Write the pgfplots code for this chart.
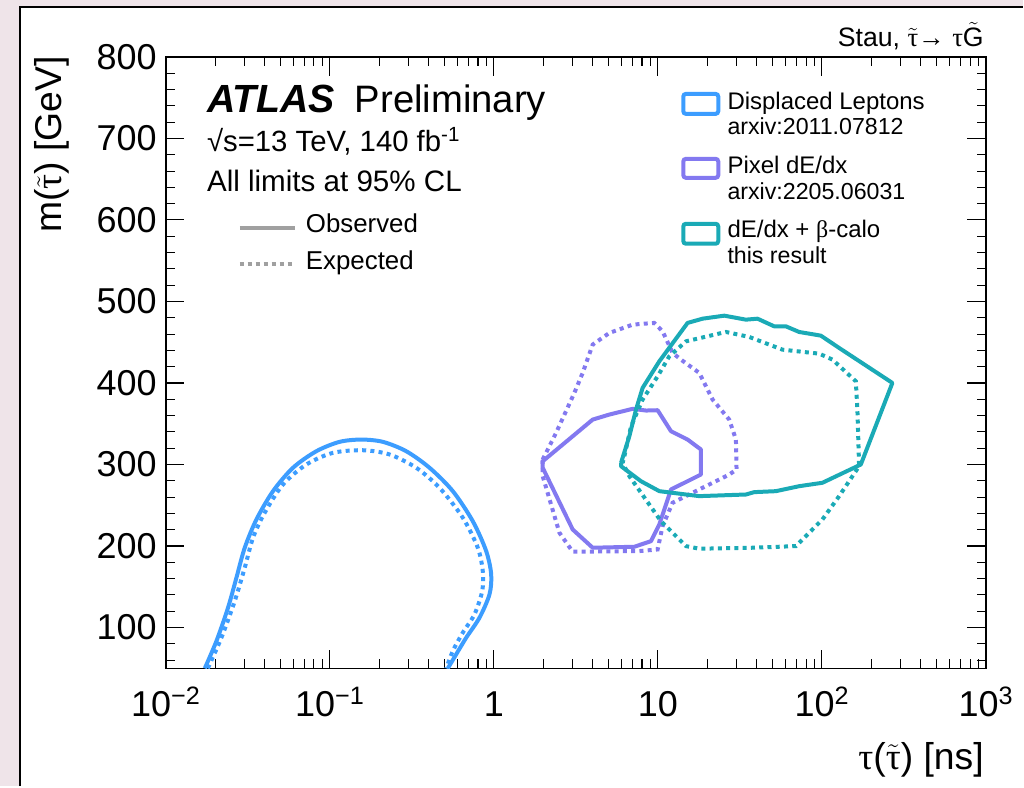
\documentclass[border=0pt]{standalone}
\usepackage{pgfplots}
\pgfplotsset{compat=1.18}
\usepackage{fontspec}
\setmainfont{Liberation Sans}
\newfontfamily\symf{Liberation Serif}
\definecolor{dlblue}{RGB}{60,157,255}
\definecolor{pixpurple}{RGB}{131,121,240}
\definecolor{calteal}{RGB}{26,170,182}
\definecolor{pinkbg}{RGB}{239,228,233}
\definecolor{leggray}{RGB}{160,160,160}
\newcommand{\stau}{$\tilde{\mbox{\symf τ}}$}
\newcommand{\fs}[1]{\fontsize{#1}{#1}\selectfont}
\tikzset{obs/.style={line width=3pt, line join=round}, 
  expd/.style={line width=3pt, dash pattern=on 3pt off 3.2pt}}

\begin{document}
\begin{tikzpicture}
% frame, in pixel coordinates of the reference
\begin{scope}[x=0.75pt,y=-0.75pt,shift={(-166,-669)}]
\fill[pinkbg] (0,0) rectangle (1024,787);
\fill[white] (20,7) rectangle (1024,787);
\draw[black, line width=1.6pt] (20,787) -- (20,7) -- (1024,7);
\end{scope}

\begin{axis}[
  at={(0,0)}, anchor=south west,
  scale only axis, width=615.75pt, height=459pt,
  xmode=log, xmin=0.01, xmax=1000, ymin=50, ymax=800,
  xtick={0.01,0.1,1,10,100,1000},
  xticklabels={10\textsuperscript{−2},10\textsuperscript{−1},1,10,10\textsuperscript{2},10\textsuperscript{3}},
  minor xtick={0.02,0.03,0.04,0.05,0.06,0.07,0.08,0.09,0.2,0.3,0.4,0.5,0.6,0.7,0.8,0.9,2,3,4,5,6,7,8,9,20,30,40,50,60,70,80,90,200,300,400,500,600,700,800,900},
  ytick={100,200,300,400,500,600,700,800},
  minor ytick={60,80,120,140,160,180,220,240,260,280,320,340,360,380,420,440,460,480,520,540,560,580,620,640,660,680,720,740,760,780},
  tick align=inside,
  major tick length=14pt, minor tick length=7pt,
  axis line style={line width=1.1pt},
  every tick/.style={black, line width=0.8pt},
  /pgf/number format/assume math mode=true,
  tick label style={font=\fs{27}, inner sep=0pt},
  xticklabel style={anchor=base, yshift=-36pt},
  yticklabel style={anchor=east, xshift=-6.75pt},
]
% Displaced leptons
\addplot[dlblue, obs, smooth] coordinates {
(0.01728,50) (0.02036,83.5) (0.02395,124.4) (0.02695,161.2) (0.03028,197.9) (0.03568,232.6)
(0.04503,267.3) (0.05961,296) (0.08275,316.3) (0.1147,327.8) (0.1555,330.6) (0.2106,327.8)
(0.2922,316.3) (0.4053,296) (0.5620,267.3) (0.7436,230.5) (0.8976,193.8) (0.9629,165.2)
(0.9401,140.7) (0.8172,112.1) (0.6783,87.6) (0.5894,67.2) (0.5239,50)};
\addplot[dlblue, expd, smooth] coordinates {
(0.01803,50) (0.02183,87.6) (0.02631,132.5) (0.03028,173.4) (0.03402,210.2) (0.04007,240.8)
(0.05182,275.5) (0.07192,300) (0.1044,314.3) (0.1591,317.5) (0.2313,312.3) (0.3362,296)
(0.4664,271.4) (0.6467,234.7) (0.7980,197.9) (0.8556,169.2) (0.8487,144.7) (0.7619,116.2)
(0.6467,93.8) (0.5620,71.2) (0.5123,50)};
% Pixel dE/dx
\addplot[pixpurple, obs] coordinates {
(1.985,304.0) (4.002,355.1) (5.058,361.3) (7.015,368.3) (8.462,366.2) (9.959,366.6)
(12.02,340.8) (15.17,330.6) (18.30,318.4) (18.30,287.7) (12.02,269.4) (10.20,226.5)
(9.078,206.0) (7.185,199.1) (4.002,197.9) (3.023,220.3) (1.985,296.0) (1.985,304.0)};
\addplot[pixpurple, expd] coordinates {
(1.985,306.1) (2.395,338.9) (3.096,387.9) (3.478,412.4) (4.002,447.1) (5.058,461.4)
(7.015,471.6) (9.508,473.7) (10.68,463.4) (12.29,436.9) (13.82,428.7) (17.87,412.4)
(21.54,379.7) (27.22,355.1) (29.90,330.6) (30.16,293.9) (27.22,287.7) (16.27,265.3)
(12.29,253.1) (10.68,224.4) (9.959,195.8) (7.702,193.8) (3.023,193.0) (2.509,216.3)
(1.985,285.7) (1.985,306.1)};
% dE/dx + beta-calo
\addplot[calteal, obs] coordinates {
(5.961,302.1) (6.697,334.7) (7.354,367.4) (8.069,394.0) (10.20,426.6) (15.17,473.7)
(18.72,478.9) (25.38,482.6) (34.40,477.7) (40.48,478.9) (51.16,469.5) (60.29,469.5)
(72.62,462.6) (98.47,458.1) (127.3,443.0) (268.8,400.1) (172.6,300.0) (100.7,277.6)
(72.62,273.4) (52.40,267.3) (38.65,266.1) (34.40,263.2) (17.87,261.2) (10.20,267.3)
(7.889,279.5) (5.961,297.9) (5.961,302.1)};
\addplot[calteal, expd] coordinates {
(6.244,310.2) (6.859,346.9) (8.069,379.7) (9.959,408.2) (11.73,432.7) (14.83,451.1)
(25.99,462.6) (36.03,456.5) (57.47,440.9) (96.16,436.0) (115.9,428.7) (160.9,402.1)
(164.5,367.4) (168.5,297.9) (127.3,261.2) (100.7,232.6) (69.35,199.9) (37.75,197.9)
(17.87,196.7) (14.83,199.9) (10.44,230.5) (6.697,285.7) (6.095,302.1) (6.244,310.2)};
\end{axis}

% texts and legend, in pixel coordinates of the reference
\begin{scope}[x=0.75pt,y=-0.75pt,shift={(-166,-669)}]
\node[anchor=base east, inner sep=0pt, font=\fs{20}] at (985,47) {Stau, \stau→ {\symf τ}$\tilde{\mbox{G}}$};
\node[anchor=base east, inner sep=0pt, font=\fs{28}, rotate=90] at (62,56) {m(\stau) [GeV]};
\node[anchor=base east, inner sep=0pt, font=\fs{28}] at (985,770) {{\symf τ}(\stau) [ns]};

\node[anchor=base west, inner sep=0pt, font=\fs{29.5}\bfseries\itshape] at (207,113) {ATLAS};
\node[anchor=base west, inner sep=0pt, font=\fs{28.7}] at (355,113) {Preliminary};
\node[anchor=base west, inner sep=0pt, font=\fs{22}] at (207,152) {√s=13 TeV, 140 fb\textsuperscript{-1}};
\node[anchor=base west, inner sep=0pt, font=\fs{22.2}] at (207,192) {All limits at 95\% CL};
\draw[leggray, line width=3pt] (240,228) -- (295,228);
\draw[leggray, line width=3pt, dash pattern=on 3pt off 3pt] (240,264) -- (295,264);
\node[anchor=base west, inner sep=0pt, font=\fs{19.4}] at (306,233) {Observed};
\node[anchor=base west, inner sep=0pt, font=\fs{19.4}] at (306,270) {Expected};

\draw[dlblue, line width=3pt, rounded corners=2pt] (684,94) rectangle (719,114);
\draw[pixpurple, line width=3pt, rounded corners=2pt] (684,159) rectangle (719,178);
\draw[calteal, line width=3pt, rounded corners=2pt] (684,224) rectangle (719,244);
\node[anchor=base west, inner sep=0pt, font=\fs{18}] at (728,110) {Displaced Leptons};
\node[anchor=base west, inner sep=0pt, font=\fs{17.4}] at (728,135) {arxiv:2011.07812};
\node[anchor=base west, inner sep=0pt, font=\fs{18}] at (728,174) {Pixel dE/dx};
\node[anchor=base west, inner sep=0pt, font=\fs{17.4}] at (728,200) {arxiv:2205.06031};
\node[anchor=base west, inner sep=0pt, font=\fs{18}] at (728,238) {dE/dx + {\symf β}-calo};
\node[anchor=base west, inner sep=0pt, font=\fs{17.4}] at (728,264) {this result};
\end{scope}
\end{tikzpicture}
\end{document}
